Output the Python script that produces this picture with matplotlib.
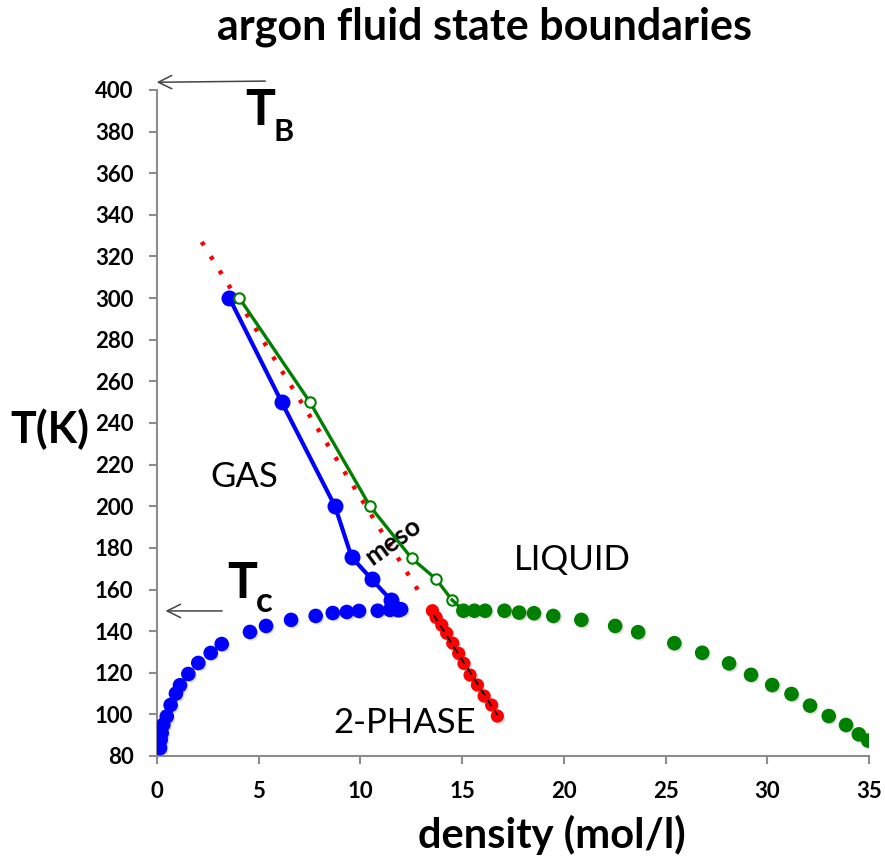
import matplotlib
matplotlib.use("Agg")
import matplotlib.pyplot as plt
import matplotlib.patheffects as pe

plt.rcParams['font.family'] = ['Lato', 'DejaVu Sans']

# ---- data ----
gas_sat_rho = [0.15, 0.18, 0.23, 0.31, 0.48, 0.67, 0.93, 1.13, 1.54, 2.03, 2.64, 3.18,
               4.57, 5.36, 6.59, 7.80, 8.64, 9.33, 9.93, 10.85, 11.45, 11.78, 12.0]
gas_sat_T = [83.8, 87.7, 91.0, 95.0, 99.0, 104.5, 110.0, 114.0, 119.4, 124.7, 129.5, 133.8,
             139.6, 142.5, 145.4, 147.3, 148.7, 149.2, 149.7, 149.8, 150.2, 150.4, 150.5]

liq_sat_rho = [15.06, 15.6, 16.13, 17.08, 17.8, 18.53, 19.48, 20.86, 22.52, 23.65, 25.43,
               26.8, 28.12, 29.2, 30.24, 31.19, 32.1, 33.02, 33.87, 34.5, 34.96]
liq_sat_T = [149.8, 149.8, 149.8, 149.8, 148.9, 148.6, 147.3, 145.4, 142.5, 139.5, 134.2,
             129.6, 124.5, 119.0, 114.1, 109.8, 104.2, 99.2, 94.9, 90.4, 87.4]

gas_bound_rho = [3.56, 6.13, 8.75, 9.57, 10.55, 11.49, 11.85]
gas_bound_T = [300, 250, 200, 175.5, 165, 155, 150.8]

liq_bound_rho = [4.05, 7.52, 10.47, 12.52, 13.72, 14.5, 15.06]
liq_bound_T = [300, 250, 200, 175, 165, 155, 150]

rect_rho = [13.54, 13.72, 14.0, 14.24, 14.54, 14.83, 15.09, 15.39, 15.75, 16.08, 16.45, 16.73]
rect_T = [149.8, 146.6, 142.9, 139.0, 134.2, 129.3, 124.5, 118.9, 114.1, 108.8, 104.5, 99.2]

fit_rho = [13.59, 16.73]
fit_T = [147.8, 99.7]

extrap_rho = [2.2, 13.0]
extrap_T = [327, 157]

T_boyle = 403.7
T_crit = 149.7

xticks = [0, 5, 10, 15, 20, 25, 30, 35]
yticks = list(range(80, 401, 20))

# ---- figure ----
fig = plt.figure(figsize=(8.85, 8.57), dpi=100)
ax = fig.add_axes([157/885, 1-756/857, (869-157)/885, (756-90)/857])

shadow = [pe.SimplePatchShadow(offset=(1.5, -1.5), alpha=0.25, shadow_rgbFace='gray'), pe.Normal()]

ax.plot(extrap_rho, extrap_T, color='red', lw=3.2, ls=(0, (0.9, 2.9)), zorder=2)

ax.plot(gas_sat_rho, gas_sat_T, 'o', color='blue', ms=9.5, mec='blue', ls='none',
        path_effects=shadow, zorder=3)
ax.plot(liq_sat_rho, liq_sat_T, 'o', color='green', ms=9.5, mec='green', ls='none',
        path_effects=shadow, zorder=3)

ax.plot(gas_bound_rho, gas_bound_T, '-o', color='blue', lw=3, ms=10.5, mfc='blue',
        mec='blue', zorder=4)
ax.plot(liq_bound_rho[:-1], liq_bound_T[:-1], '-o', color='green', lw=2.4, ms=7.5,
        mfc='white', mec='green', mew=1.5, zorder=4)
ax.plot(liq_bound_rho[-2:], liq_bound_T[-2:], '-', color='green', lw=2.4, zorder=4)

ax.plot(rect_rho, rect_T, 'o', color='red', ms=8.5, ls='none', path_effects=shadow, zorder=3)
ax.plot(fit_rho, fit_T, color='black', lw=1.3, ls=(0, (4, 3)), zorder=5)

ax.set_xlim(0, 35)
ax.set_ylim(80, 400)
ax.set_xticks(xticks)
ax.set_yticks(yticks)
for s in ['top', 'right']:
    ax.spines[s].set_visible(False)
for s in ['left', 'bottom']:
    ax.spines[s].set_color('#8c8c8c')
    ax.spines[s].set_linewidth(1.5)
ax.tick_params(axis='both', direction='out', length=6, width=1.5, color='#8c8c8c',
               labelsize=16)
ax.tick_params(axis='y', pad=11)
ax.tick_params(axis='x', pad=12)
for lbl in ax.get_xticklabels() + ax.get_yticklabels():
    lbl.set_fontweight('bold')

ax.set_xlabel('density (mol/l)', fontsize=30, fontweight='bold')
ax.xaxis.set_label_coords(0.555, -0.088)
ax.xaxis.label.set_va('top')
ax.set_ylabel('T(K)', fontsize=31, fontweight='bold', rotation=0, va='center', ha='center')
ax.yaxis.set_label_coords(-0.15, 0.49)
fig.suptitle('argon fluid state boundaries', fontsize=31, fontweight='bold',
             x=0.548, y=0.992)

# annotations
ax.annotate('', xy=(-0.15, T_boyle), xytext=(5.46, T_boyle + 0.6),
            arrowprops=dict(arrowstyle='->', color='#444444', lw=1.1, mutation_scale=24),
            annotation_clip=False)
ax.annotate('', xy=(0.28, T_crit), xytext=(3.34, T_crit),
            arrowprops=dict(arrowstyle='->', color='#444444', lw=1.1, mutation_scale=24),
            annotation_clip=False)
ax.text(5.06, 390, 'T', fontsize=36, fontweight='bold', ha='center', va='center')
ax.text(6.2, 380, 'B', fontsize=22, fontweight='bold', ha='center', va='center')
ax.text(4.2, 163, 'T', fontsize=36, fontweight='bold', ha='center', va='center')
ax.text(5.25, 154, 'c', fontsize=25, fontweight='bold', ha='center', va='center')

ax.text(4.3, 214, 'GAS', fontsize=25, ha='center', va='center')
ax.text(20.4, 174, 'LIQUID', fontsize=25, ha='center', va='center')
ax.text(12.2, 96, '2-PHASE', fontsize=25, ha='center', va='center')
ax.text(11.6, 183.3, 'meso', fontsize=19, fontweight='bold', ha='center', va='center',
        rotation=36)

fig.savefig('out.png', dpi=100)
